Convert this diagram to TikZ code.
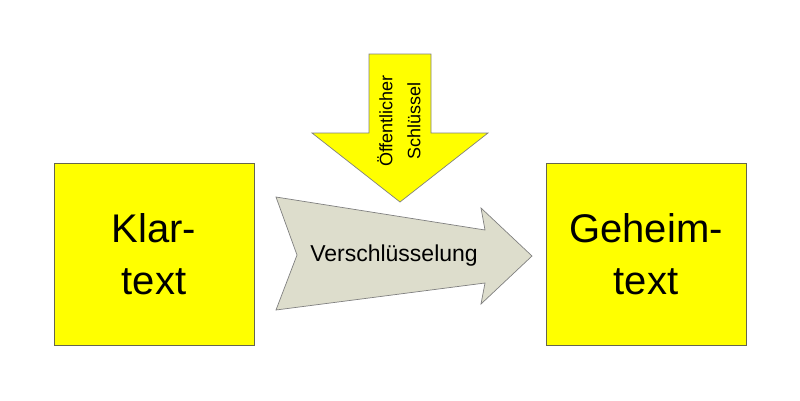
\documentclass[tikz,border=0pt]{standalone}
\usepackage{fontspec}
\setmainfont{Liberation Sans}
\usepackage{tikz}
\usetikzlibrary{positioning}
\usepackage{xcolor}
\definecolor{boxyellow}{HTML}{FFFF00}
\definecolor{boxedge}{HTML}{66664D}
\definecolor{arrowgrey}{HTML}{DDDDCC}
\definecolor{arrowedge}{HTML}{808080}
\tikzset{
  textbox/.style={draw=boxedge, line width=0.8pt, fill=boxyellow,
                  minimum width=200pt, minimum height=182pt, inner sep=0pt,
                  align=center, font=\fontsize{40}{52}\selectfont},
  keyarrow/.style={draw=arrowedge, line width=0.7pt, fill=boxyellow},
  cryptarrow/.style={draw=arrowedge, line width=0.7pt, fill=arrowgrey},
  label/.style={inner sep=0pt, align=center},
}

\begin{document}
\begin{tikzpicture}[x=1pt, y=-1pt]
\useasboundingbox (0,0) rectangle (800,400);
\node[textbox] (klar) at (154,254) {Klar-\\text};
\node[textbox] (geheim) at (646,254) {Geheim-\\text};
% Verschluesselung
\draw[cryptarrow] (276,197) -- (485,230) -- (481,208) -- (532,256)
  -- (481,304) -- (485,283) -- (276,310) -- (297,255) -- cycle;
\node[label, anchor=base, font=\fontsize{23}{28}\selectfont] (enc) at (394,261.5) {Verschlüsselung};
% oeffentlicher Schluessel
\draw[keyarrow] (369,54) -- (431,54) -- (431,133) -- (488,133) -- (400,202)
  -- (312,133) -- (369,133) -- cycle;
\node[label, rotate=90, font=\fontsize{18}{28}\selectfont] (key) at (399,121) {Öffentlicher\\Schlüssel};
\end{tikzpicture}
\end{document}
